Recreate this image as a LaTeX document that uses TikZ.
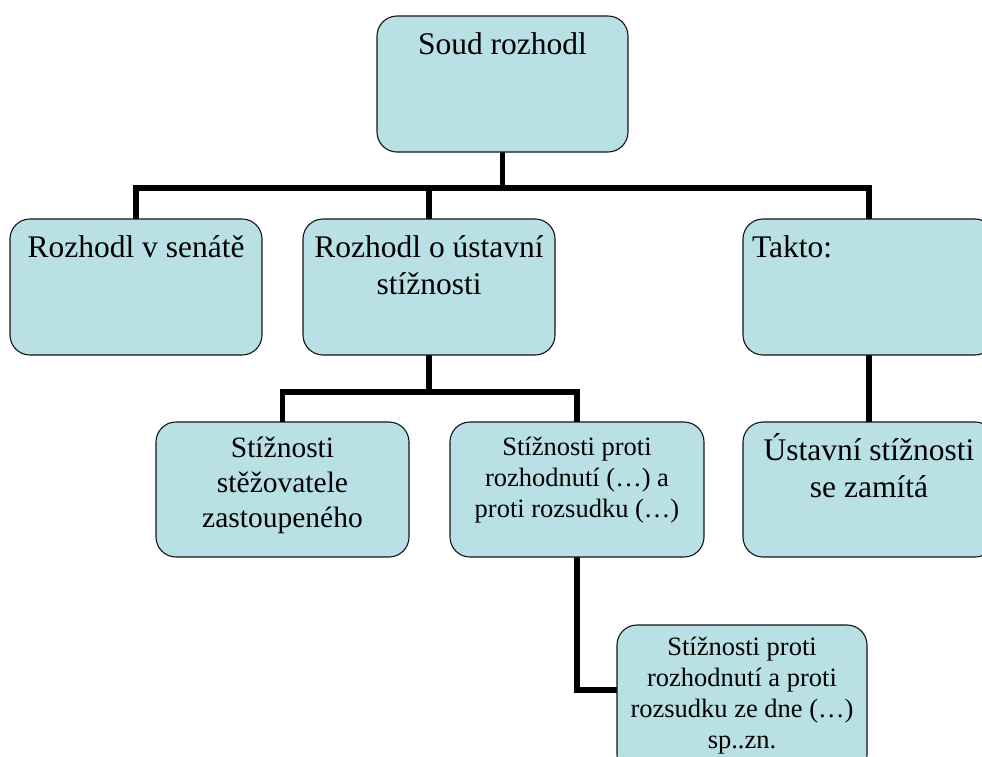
\documentclass[tikz,border=0pt]{standalone}
\usepackage{fontspec}
\setmainfont{Liberation Serif}
\usetikzlibrary{backgrounds}
\definecolor{boxfill}{RGB}{185,224,228}
\definecolor{boxline}{RGB}{20,20,20}
\tikzset{
  orgbox/.style={draw=boxline, line width=1.1pt, fill=boxfill, rounded corners=20pt,
                 inner sep=0pt, outer sep=0pt, text=black},
  link/.style={line width=5.5pt, black},
  bigfont/.style={font=\fontsize{31.5}{37}\selectfont},
  midfont/.style={font=\fontsize{29.5}{35}\selectfont},
  smallfont/.style={font=\fontsize{26.5}{31}\selectfont},
}
% width, height, first-baseline offset, text (centered, top aligned)
\newcommand{\ctrbox}[4]{\parbox[c][#2][t]{#1}{\centering\rule{0pt}{#3}#4\par}}
\newcommand{\leftbox}[4]{\parbox[c][#2][t]{#1}{\raggedright\hspace*{9pt}\rule{0pt}{#3}#4\par}}
\begin{document}
\begin{tikzpicture}[x=1pt,y=-1pt]
\useasboundingbox (0,0) rectangle (982,756);
\clip (0,0) rectangle (982,756);

\node[orgbox, bigfont] (top) at (502.5,84) {\ctrbox{251pt}{136pt}{38pt}{Soud rozhodl}};

\node[orgbox, bigfont] (senat) at (136,287) {\ctrbox{252pt}{136pt}{38pt}{Rozhodl v senátě}};
\node[orgbox, bigfont] (ustav) at (429,287) {\ctrbox{252pt}{136pt}{38pt}{Rozhodl o ústavní\\stížnosti}};
\node[orgbox, bigfont] (takto) at (869,287) {\leftbox{252pt}{136pt}{38pt}{Takto:}};

\node[orgbox, midfont] (stez) at (282.5,489.5) {\ctrbox{253pt}{135pt}{35pt}{Stížnosti\\stěžovatele\\zastoupeného}};
\node[orgbox, smallfont] (proti) at (577,489.5) {\ctrbox{254pt}{135pt}{33pt}{Stížnosti proti\\rozhodnutí (…) a\\proti rozsudku (…)}};
\node[orgbox, bigfont] (zamit) at (869,489.5) {\ctrbox{252pt}{135pt}{38pt}{Ústavní stížnosti\\se zamítá}};

\node[orgbox, smallfont] (dole) at (742,700) {\ctrbox{250pt}{150pt}{30pt}{Stížnosti proti\\rozhodnutí a proti\\rozsudku ze dne (…)\\sp..zn.}};

\coordinate (bus1) at (502.5,188);
\coordinate (bus2) at (429,392);
\coordinate (elbow) at (577,690);

\begin{pgfonlayer}{background}
  \draw[link] (top.south) -- (bus1);
  \draw[link] (senat.north) |- (bus1) -| (takto.north);
  \draw[link] (ustav.north) -- (ustav.north |- bus1);
  \draw[link] (ustav.south) -- (bus2);
  \draw[link] (stez.north) |- (bus2) -| (proti.north);
  \draw[link] (takto.south) -- (zamit.north);
  \draw[link] (proti.south) -- (elbow) -- (elbow -| dole.west);
\end{pgfonlayer}
\end{tikzpicture}
\end{document}
